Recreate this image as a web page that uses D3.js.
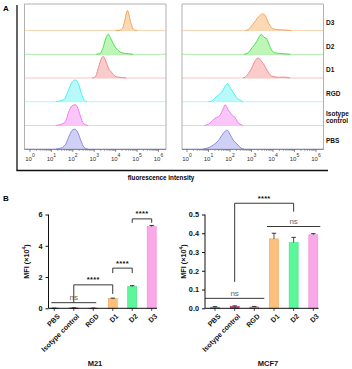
<!DOCTYPE html>
<html><head><meta charset="utf-8">
<script src="https://cdn.jsdelivr.net/npm/d3@7"></script>
<style>
body{margin:0;background:#fff;}
svg{display:block;font-family:"Liberation Sans",Arial,sans-serif;}
</style></head>
<body>
<script>
// ---------- DATA ----------
const rowLabels = ["D3","D2","D1","RGD","Isotype control","PBS"];
const histColors = [
  {stroke:"#f5a55c", fill:"#fbd2a8"},
  {stroke:"#4ee04e", fill:"#b2f5aa"},
  {stroke:"#f28a8a", fill:"#f9c2c2"},
  {stroke:"#4cf2f2", fill:"#acf8f8"},
  {stroke:"#f27af2", fill:"#f9bcf9"},
  {stroke:"#8a8ae6", fill:"#c8c8f4"}
];
// [log10 intensity, relative count]
const leftD3  = [[4.0,0],[4.17,1],[4.3,8],[4.42,40],[4.5,75],[4.55,85],[4.6,75],[4.7,35],[4.8,10],[4.9,2],[5.0,0]];
const leftD2  = [[3.1,0],[3.27,3],[3.4,25],[3.55,70],[3.66,85],[3.75,70],[3.88,47],[4.0,28],[4.21,10],[4.4,4],[4.6,2],[4.81,0]];
const leftD1  = [[2.9,0],[3.04,4],[3.2,45],[3.35,85],[3.43,91],[3.5,80],[3.66,42],[3.8,25],[3.97,8],[4.1,4],[4.3,2],[4.5,0]];
const leftRGD = [[1.2,0],[1.32,2],[1.6,10],[1.78,45],[1.95,80],[2.1,92],[2.25,78],[2.4,35],[2.52,8],[2.65,0]];
const leftIso = [[1.2,0],[1.4,3],[1.65,15],[1.8,55],[1.95,82],[2.1,87],[2.2,80],[2.35,40],[2.5,8],[2.7,0]];
const leftPBS = [[1.2,0],[1.4,3],[1.65,18],[1.85,60],[2.0,82],[2.1,84],[2.22,72],[2.38,35],[2.52,8],[2.7,0]];
const rightD3  = [[2.7,0],[2.85,5],[3.05,25],[3.19,42],[3.35,60],[3.5,70],[3.6,68],[3.75,40],[3.86,21],[4.0,8],[4.2,4],[4.5,3],[4.85,0]];
const rightD2  = [[2.65,0],[2.8,4],[3.05,30],[3.25,55],[3.4,80],[3.47,83],[3.58,72],[3.7,67],[3.82,40],[3.94,17],[4.1,6],[4.4,3],[4.8,0]];
const rightD1  = [[2.6,0],[2.7,3],[2.9,25],[3.01,42],[3.18,75],[3.32,84],[3.45,72],[3.63,49],[3.75,28],[3.86,14],[4.0,6],[4.3,3],[4.47,4],[4.79,0]];
const rightRGD = [[1.0,0],[1.15,3],[1.3,15],[1.46,28],[1.65,45],[1.8,70],[1.88,76],[2.0,60],[2.16,38],[2.3,18],[2.47,7],[2.6,0]];
const rightIso = [[0.8,0],[0.92,2],[1.1,12],[1.3,30],[1.53,42],[1.68,70],[1.77,87],[1.9,68],[2.08,45],[2.23,34],[2.35,15],[2.47,5],[2.6,0]];
const rightPBS = [[0.75,0],[0.84,2],[1.05,8],[1.22,17],[1.4,30],[1.53,45],[1.7,68],[1.87,80],[2.0,62],[2.15,38],[2.28,25],[2.38,17],[2.5,5],[2.65,0]];
const decades = [0,1,2,3,4,5,6];

const barCats = ["PBS","Isotype control","RGD","D1","D2","D3"];
const barFill = ["#4fc4c4","#c8388a","#e88aa0","#fcc07e","#5cf79a","#fba8e8"];
const barStroke = ["#3aa8a8","#a82870","#d06a84","#f0a050","#3ee080","#f088d8"];
const m21Values = [0.01,0.02,0.01,0.62,1.39,5.22];
const m21Errors = [0.005,0.01,0.005,0.03,0.06,0.08];
const m21Ticks = [0,2,4,6];
const mcfValues = [0.006,0.009,0.007,0.37,0.35,0.392];
const mcfErrors = [0.003,0.004,0.003,0.03,0.028,0.006];
const mcfTicks = [0,0.1,0.2,0.3,0.4,0.5];

// ---------- SVG ----------
const W=352,H=369;
const svg=d3.select("body").append("svg").attr("width",W).attr("height",H);

svg.append("text").attr("x",3).attr("y",11).attr("font-weight","bold").attr("font-size",8).text("A");
svg.append("text").attr("x",3).attr("y",201).attr("font-weight","bold").attr("font-size",8).text("B");

// outer L frame of panel A
svg.append("line").attr("x1",17).attr("x2",17).attr("y1",5).attr("y2",170.5).attr("stroke","#111").attr("stroke-width",1.3);
svg.append("line").attr("x1",16.4).attr("x2",328).attr("y1",170.5).attr("y2",170.5).attr("stroke","#111").attr("stroke-width",1.3);
svg.append("text").attr("x",161).attr("y",180).attr("text-anchor","middle").attr("font-weight","bold").attr("font-size",6.3).text("fluorescence intensity");

const rowH=23.7, base0=30.6, boxTop=4, axisY=149.4;

function histPanel(x0,x1,r0,r1,series){
  const g=svg.append("g");
  const x=d3.scaleLinear().domain([0,6]).range([r0,r1]);
  g.append("path").attr("d",`M${x0},${axisY}V${boxTop}H${x1}V${axisY}`).attr("fill","none").attr("stroke","#b0b0b0").attr("stroke-width",1);
  series.forEach((s,i)=>{
    const b=base0+i*rowH;
    const y=d3.scaleLinear().domain([0,100]).range([b,b-rowH]);
    g.append("line").attr("x1",x0).attr("x2",x1).attr("y1",b).attr("y2",b).attr("stroke",histColors[i].stroke).attr("stroke-width",0.8).attr("opacity",0.6);
    const area=d3.area().x(d=>x(d[0])).y0(b).y1(d=>y(d[1])).curve(d3.curveMonotoneX);
    const line=d3.line().x(d=>x(d[0])).y(d=>y(d[1])).curve(d3.curveMonotoneX);
    g.append("path").attr("d",area(s)).attr("fill",histColors[i].fill).attr("opacity",0.85);
    g.append("path").attr("d",line(s)).attr("fill","none").attr("stroke",histColors[i].stroke).attr("stroke-width",1);
  });
  g.append("line").attr("x1",x0).attr("x2",x1).attr("y1",axisY).attr("y2",axisY).attr("stroke","#666").attr("stroke-width",0.8);
  const ticks=[];
  for(let d=0;d<6;d++){for(let k=2;k<=9;k++)ticks.push(d+Math.log10(k));}
  g.selectAll(null).data(ticks).join("line").attr("x1",d=>x(d)).attr("x2",d=>x(d)).attr("y1",axisY).attr("y2",axisY+1.5).attr("stroke","#666").attr("stroke-width",0.6);
  g.selectAll(null).data(decades).join("line").attr("x1",d=>x(d)).attr("x2",d=>x(d)).attr("y1",axisY).attr("y2",axisY+2.5).attr("stroke","#555").attr("stroke-width",0.7);
  const t=g.selectAll(null).data(decades).join("text").attr("x",d=>x(d)).attr("y",160.5).attr("text-anchor","middle").attr("font-size",6).attr("fill","#333");
  t.append("tspan").text("10");
  t.append("tspan").attr("dy",-3.5).attr("font-size",5).text(d=>d);
}
histPanel(24.5,166,30,158.5,[leftD3,leftD2,leftD1,leftRGD,leftIso,leftPBS]);
histPanel(182,323.5,187,316,[rightD3,rightD2,rightD1,rightRGD,rightIso,rightPBS]);

const rowLab=[["D3"],["D2"],["D1"],["RGD"],["Isotype","control"],["PBS"]];
rowLab.forEach((l,i)=>{
  const cy=base0+i*rowH-8;
  l.forEach((s,j)=>{
    svg.append("text").attr("x",326).attr("y",cy+2.3+(j-(l.length-1)/2)*7.3).attr("font-weight","bold").attr("font-size",6.5).attr("fill","#111").text(s);
  });
});

// ---------- PANEL B ----------
function barChart(o){
  const g=svg.append("g");
  const y=d3.scaleLinear().domain(o.domain).range([308.3,214.5]);
  const x=d3.scalePoint().domain(barCats).range(o.xr);
  const bw=9;
  g.selectAll(null).data(o.values).join("rect")
    .attr("x",(d,i)=>x(barCats[i])-bw/2).attr("width",bw)
    .attr("y",d=>y(d)).attr("height",d=>Math.max(0.6,y(0)-y(d)))
    .attr("fill",(d,i)=>barFill[i]).attr("stroke",(d,i)=>barStroke[i]).attr("stroke-width",0.6);
  o.values.forEach((v,i)=>{
    const cx=x(barCats[i]);
    g.append("line").attr("x1",cx).attr("x2",cx).attr("y1",y(v)).attr("y2",y(v+o.errors[i])).attr("stroke","#222").attr("stroke-width",0.8);
    g.append("line").attr("x1",cx-2.2).attr("x2",cx+2.2).attr("y1",y(v+o.errors[i])).attr("y2",y(v+o.errors[i])).attr("stroke","#222").attr("stroke-width",0.9);
  });
  const ya=g.append("g").attr("transform",`translate(${o.ax},0)`).call(d3.axisLeft(y).tickValues(o.ticks).tickSize(3).tickFormat(o.fmt));
  ya.select(".domain").attr("stroke","#111").attr("stroke-width",1).attr("d",`M0,${y(o.domain[1])}V${y(0)}`);
  ya.selectAll(".tick line").attr("stroke","#111");
  ya.selectAll("text").attr("font-size",7.3).attr("font-weight","bold").attr("fill","#111").attr("font-family","Liberation Sans, Arial, sans-serif");
  g.append("line").attr("x1",o.ax).attr("x2",o.xend).attr("y1",y(0)).attr("y2",y(0)).attr("stroke","#111").attr("stroke-width",1);
  g.selectAll(null).data(barCats).join("line").attr("x1",d=>x(d)).attr("x2",d=>x(d)).attr("y1",y(0)).attr("y2",y(0)+2.5).attr("stroke","#111").attr("stroke-width",0.8);
  const lg=g.selectAll(null).data(barCats).join("g").attr("transform",d=>`translate(${x(d)+2.5},${y(0)+5})`);
  lg.append("text").attr("transform","rotate(-45)")
    .attr("text-anchor","end").attr("dy","0.7em").attr("font-size",7).attr("font-weight","bold").attr("fill","#111").text(d=>d);
  const yt=g.append("text").attr("transform",`translate(${o.tx},261.5) rotate(-90)`).attr("text-anchor","middle").attr("font-size",7.3).attr("font-weight","bold").attr("fill","#111");
  yt.append("tspan").text("MFI (×10");
  yt.append("tspan").attr("dy",-3).attr("font-size",5).text("4");
  yt.append("tspan").attr("dy",3).text(")");
  g.append("text").attr("x",o.titleX).attr("y",366).attr("text-anchor","middle").attr("font-size",7.5).attr("font-weight","bold").attr("fill","#111").text(o.title);
  const ln=(x1,y1,x2,y2)=>g.append("line").attr("x1",x1).attr("x2",x2).attr("y1",y1).attr("y2",y2).attr("stroke","#222").attr("stroke-width",0.9);
  o.ns.forEach(n=>{
    ln(x(n.a)-n.pad,y(n.y),x(n.b)+n.pad,y(n.y));
    g.append("text").attr("x",(x(n.a)+x(n.b))/2).attr("y",y(n.y)-2.5).attr("text-anchor","middle").attr("font-size",8).attr("fill","#666").text("ns");
  });
  o.brackets.forEach(b=>{
    const xa=x(b.a), xb=x(b.b);
    ln(xa,y(b.ya),xa,y(b.y)); ln(xa,y(b.y),xb,y(b.y)); ln(xb,y(b.y),xb,y(b.yb));
    g.append("text").attr("x",(xa+xb)/2).attr("y",y(b.y)-2.5).attr("text-anchor","middle").attr("font-size",7.5).attr("font-weight","bold").attr("letter-spacing",0.3).attr("fill","#111").text("****");
  });
}

barChart({domain:[0,6],ticks:m21Ticks,fmt:d3.format("d"),values:m21Values,errors:m21Errors,
  xr:[54.3,151.7],ax:48.5,xend:157,tx:29,titleX:95,title:"M21",
  ns:[{a:"PBS",b:"RGD",y:0.36,pad:3}],
  brackets:[{a:"Isotype control",b:"D1",y:1.5,ya:0.36,yb:0.92},
            {a:"D1",b:"D2",y:2.57,ya:2.25,yb:2.25},
            {a:"D2",b:"D3",y:5.72,ya:5.47,yb:5.47}]});

barChart({domain:[0,0.5],ticks:mcfTicks,fmt:d3.format(".1f"),values:mcfValues,errors:mcfErrors,
  xr:[215,313.3],ax:205,xend:318.5,tx:186,titleX:268,title:"MCF7",
  ns:[{a:"PBS",b:"RGD",y:0.053,pad:10},{a:"D1",b:"D3",y:0.436,pad:7}],
  brackets:[{a:"Isotype control",b:"D2",y:0.56,ya:0.141,yb:0.515}]});
</script>
</body></html>
